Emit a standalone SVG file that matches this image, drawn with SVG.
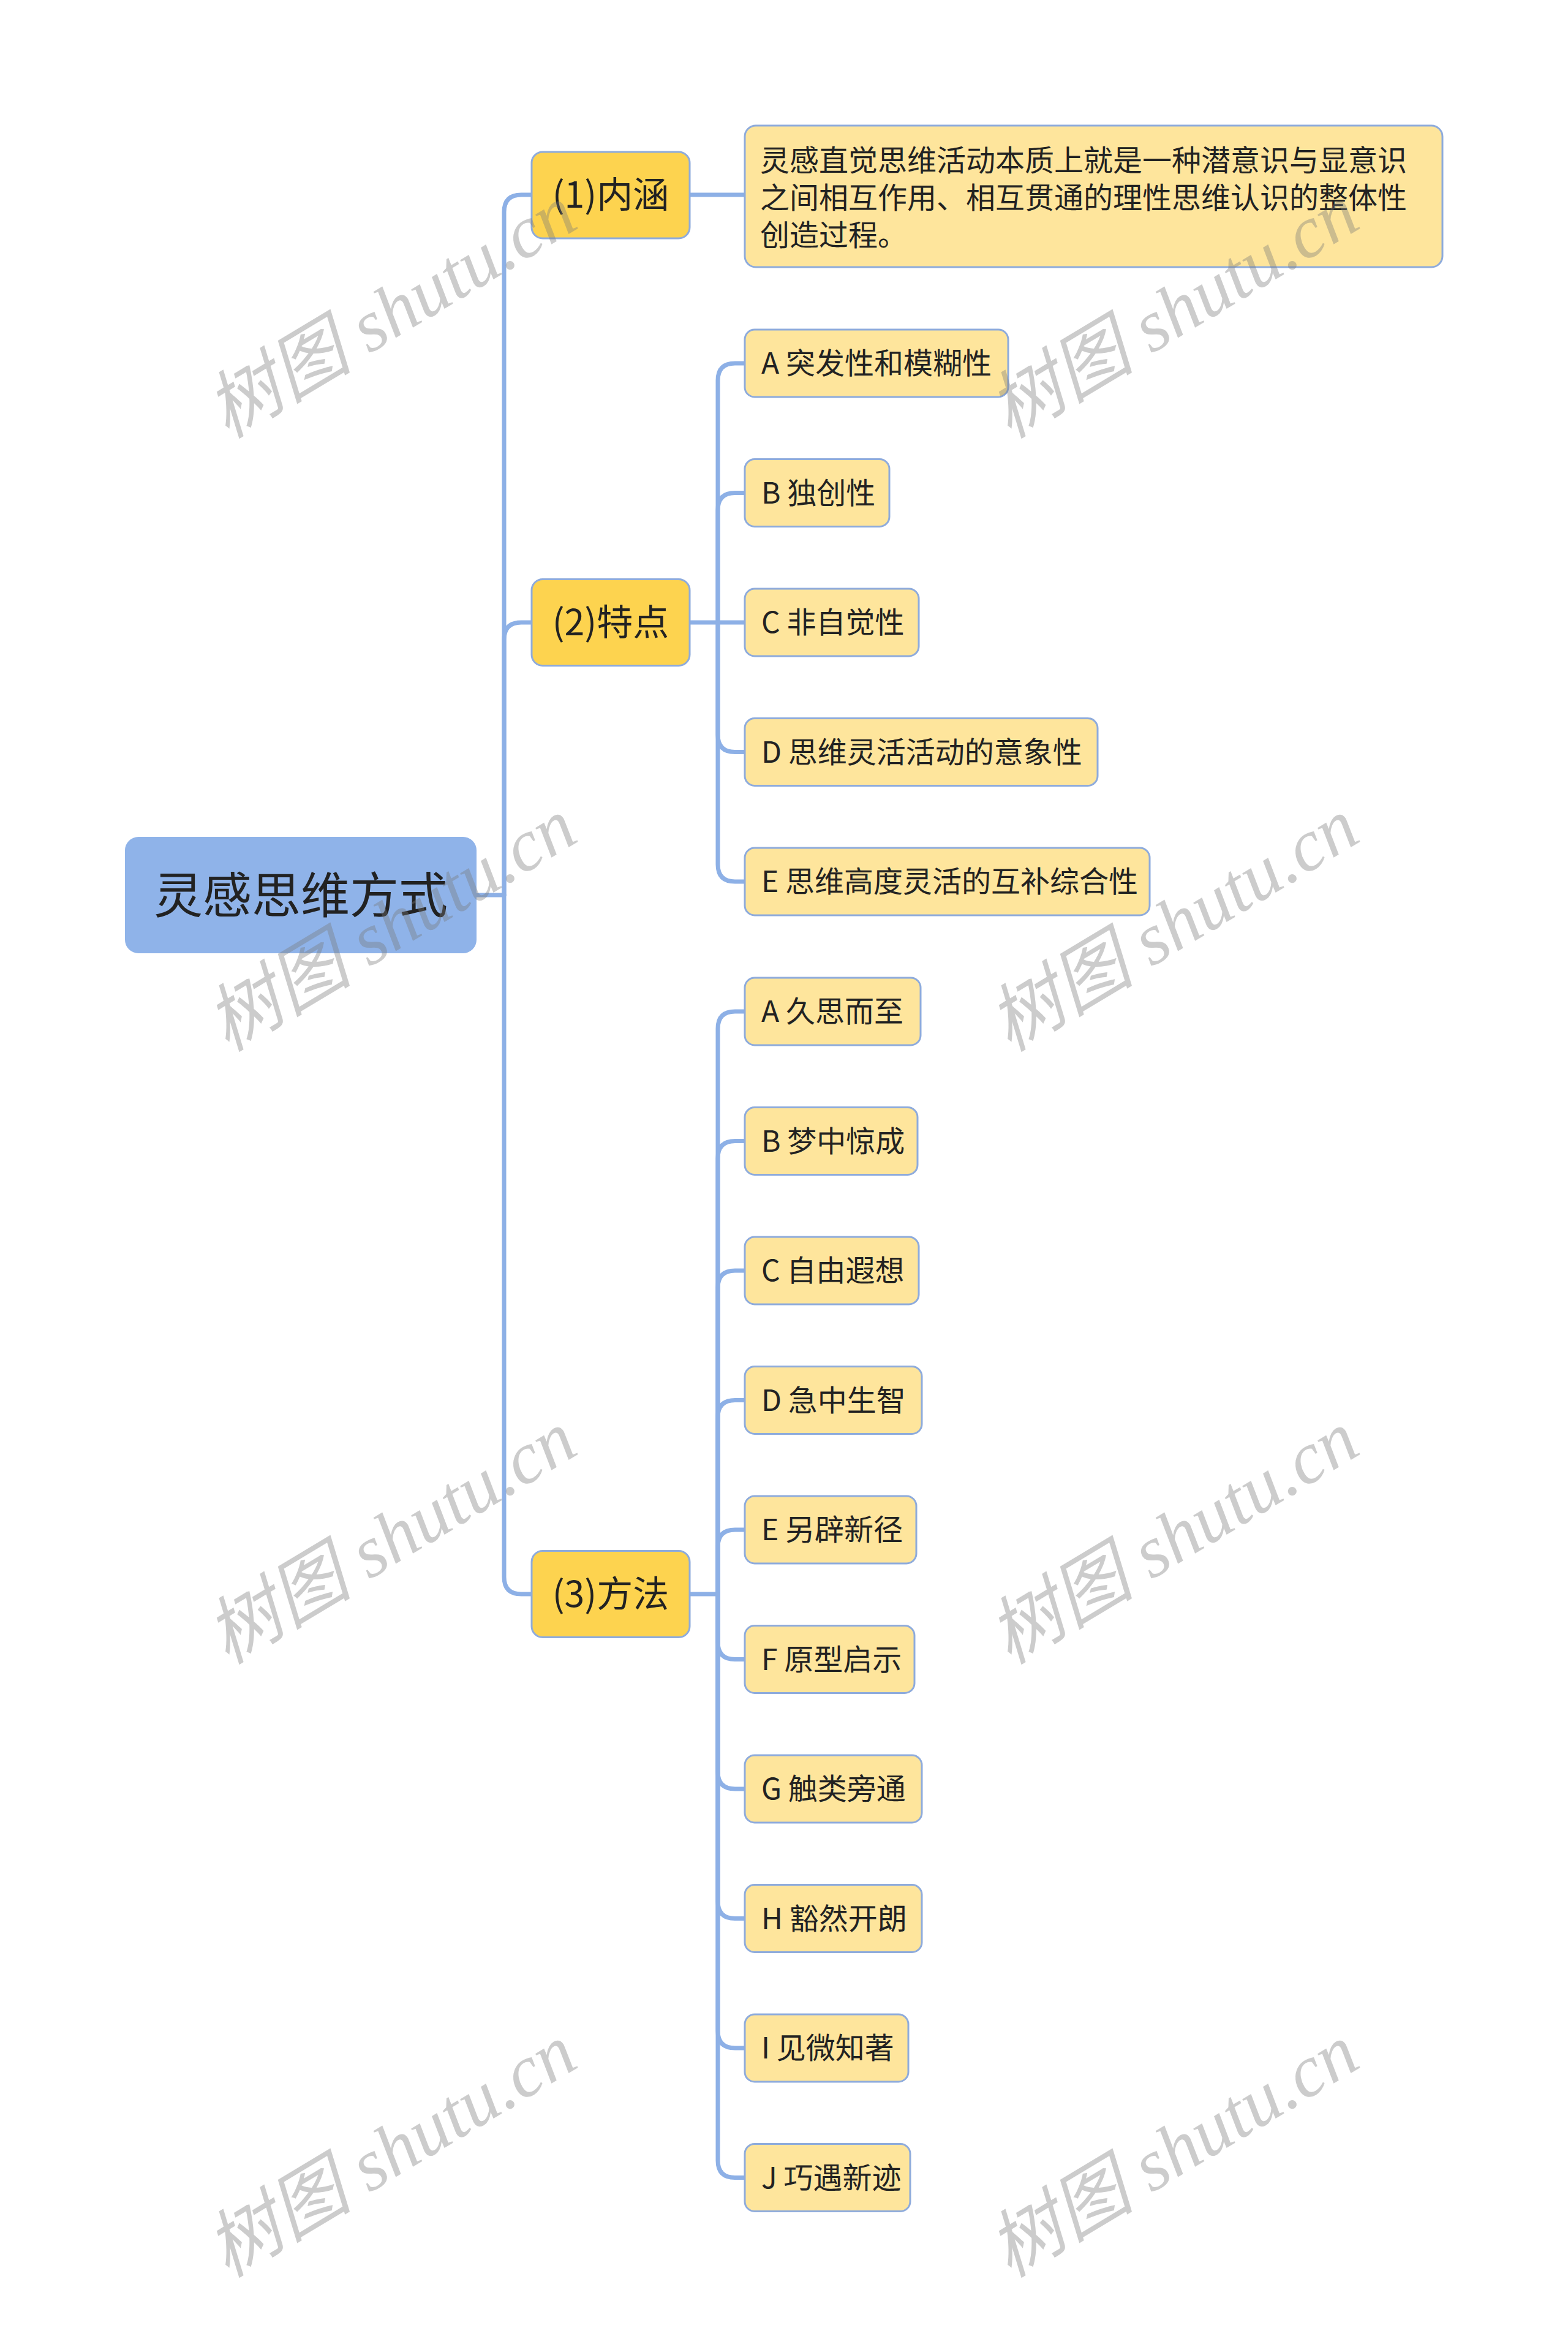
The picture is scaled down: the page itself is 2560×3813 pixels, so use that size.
<svg xmlns="http://www.w3.org/2000/svg" width="2560" height="3813" viewBox="0 0 2560 3813">
<style>
.bg{fill:#ffffff}
.root{fill:#8fb3e9}
.l1{fill:#fdd34f;stroke:#8eabdc;stroke-width:3}
.l2{fill:#fee59c;stroke:#8eabdc;stroke-width:3}
.t{font-family:"Noto Sans CJK SC","Noto Sans",sans-serif;fill:#222222}
.tr{font-size:80px}
.t1{font-size:59px}
.t2{font-size:48px}
.td{font-size:48px}
.conn path{fill:none;stroke:#8db0e6;stroke-width:7;stroke-linecap:round;stroke-linejoin:round}
.wm{font-family:"Liberation Serif","Noto Sans CJK SC",serif;font-style:italic;font-size:120px;fill:#7a7a7a;fill-opacity:0.38}
</style>
<rect class="bg" x="0" y="0" width="2560" height="3813"/>
<g id="connectors" class="conn">
<path d="M778,1461 H823"/>
<path d="M823,1461 V346 Q823,318 851,318 H868"/>
<path d="M823,1461 V1044 Q823,1016 851,1016 H868"/>
<path d="M823,1461 V2574 Q823,2602 851,2602 H868"/>
<path d="M1126,318 H1216"/>
<path d="M1126,1016 H1172"/>
<path d="M1172,1016 V621 Q1172,593 1200,593 H1216"/>
<path d="M1172,1016 V832.5 Q1172,804.5 1200,804.5 H1216"/>
<path d="M1172,1016 H1216"/>
<path d="M1172,1016 V1199.5 Q1172,1227.5 1200,1227.5 H1216"/>
<path d="M1172,1016 V1411 Q1172,1439 1200,1439 H1216"/>
<path d="M1126,2602 H1172"/>
<path d="M1172,2602 V1679 Q1172,1651 1200,1651 H1216"/>
<path d="M1172,2602 V1890.5 Q1172,1862.5 1200,1862.5 H1216"/>
<path d="M1172,2602 V2102 Q1172,2074 1200,2074 H1216"/>
<path d="M1172,2602 V2313.5 Q1172,2285.5 1200,2285.5 H1216"/>
<path d="M1172,2602 V2525 Q1172,2497 1200,2497 H1216"/>
<path d="M1172,2602 V2680.5 Q1172,2708.5 1200,2708.5 H1216"/>
<path d="M1172,2602 V2892 Q1172,2920 1200,2920 H1216"/>
<path d="M1172,2602 V3103.5 Q1172,3131.5 1200,3131.5 H1216"/>
<path d="M1172,2602 V3315 Q1172,3343 1200,3343 H1216"/>
<path d="M1172,2602 V3526.5 Q1172,3554.5 1200,3554.5 H1216"/>
</g>
<g id="root">
<rect class="root" x="204" y="1366" width="574" height="190" rx="22"/>
<text class="t tr" x="491" y="1490" text-anchor="middle">灵感思维方式</text>
</g>
<g id="n1">
<rect class="l1" x="868" y="248" width="258" height="141" rx="18"/>
<text class="t t1" x="997" y="339" text-anchor="middle">(1)内涵</text>
</g>
<g id="n1-desc">
<rect class="l2" x="1216" y="205" width="1139" height="231" rx="18"/>
<text class="t td" x="1241" y="279">灵感直觉思维活动本质上就是一种潜意识与显意识</text>
<text class="t td" x="1241" y="340">之间相互作用、相互贯通的理性思维认识的整体性</text>
<text class="t td" x="1241" y="401">创造过程。</text>
</g>
<g id="n2">
<rect class="l1" x="868" y="945.5" width="258" height="141" rx="18"/>
<text class="t t1" x="997" y="1037" text-anchor="middle">(2)特点</text>
</g>
<g id="n2a">
<rect class="l2" x="1216" y="538" width="430" height="110" rx="16"/>
<text class="t t2" x="1243" y="610">A 突发性和模糊性</text>
</g>
<g id="n2b">
<rect class="l2" x="1216" y="749.5" width="236" height="110" rx="16"/>
<text class="t t2" x="1243" y="821.5">B 独创性</text>
</g>
<g id="n2c">
<rect class="l2" x="1216" y="961" width="284" height="110" rx="16"/>
<text class="t t2" x="1243" y="1033">C 非自觉性</text>
</g>
<g id="n2d">
<rect class="l2" x="1216" y="1172.5" width="576" height="110" rx="16"/>
<text class="t t2" x="1243" y="1244.5">D 思维灵活活动的意象性</text>
</g>
<g id="n2e">
<rect class="l2" x="1216" y="1384" width="661" height="110" rx="16"/>
<text class="t t2" x="1243" y="1456">E 思维高度灵活的互补综合性</text>
</g>
<g id="n3">
<rect class="l1" x="868" y="2531.5" width="258" height="141" rx="18"/>
<text class="t t1" x="997" y="2623" text-anchor="middle">(3)方法</text>
</g>
<g id="n3a">
<rect class="l2" x="1216" y="1596" width="287" height="110" rx="16"/>
<text class="t t2" x="1243" y="1668">A 久思而至</text>
</g>
<g id="n3b">
<rect class="l2" x="1216" y="1807.5" width="282" height="110" rx="16"/>
<text class="t t2" x="1243" y="1879.5">B 梦中惊成</text>
</g>
<g id="n3c">
<rect class="l2" x="1216" y="2019" width="284" height="110" rx="16"/>
<text class="t t2" x="1243" y="2091">C 自由遐想</text>
</g>
<g id="n3d">
<rect class="l2" x="1216" y="2230.5" width="289" height="110" rx="16"/>
<text class="t t2" x="1243" y="2302.5">D 急中生智</text>
</g>
<g id="n3e">
<rect class="l2" x="1216" y="2442" width="280" height="110" rx="16"/>
<text class="t t2" x="1243" y="2514">E 另辟新径</text>
</g>
<g id="n3f">
<rect class="l2" x="1216" y="2653.5" width="277" height="110" rx="16"/>
<text class="t t2" x="1243" y="2725.5">F 原型启示</text>
</g>
<g id="n3g">
<rect class="l2" x="1216" y="2865" width="289" height="110" rx="16"/>
<text class="t t2" x="1243" y="2937">G 触类旁通</text>
</g>
<g id="n3h">
<rect class="l2" x="1216" y="3076.5" width="289" height="110" rx="16"/>
<text class="t t2" x="1243" y="3148.5">H 豁然开朗</text>
</g>
<g id="n3i">
<rect class="l2" x="1216" y="3288" width="267" height="110" rx="16"/>
<text class="t t2" x="1243" y="3360">I 见微知著</text>
</g>
<g id="n3j">
<rect class="l2" x="1216" y="3499.5" width="270" height="110" rx="16"/>
<text class="t t2" x="1243" y="3571.5">J 巧遇新迹</text>
</g>
<g id="watermarks">
<text class="wm" transform="translate(640,511) rotate(-31)" x="0" y="38" text-anchor="middle">树图 shutu.cn</text>
<text class="wm" transform="translate(1917,511) rotate(-31)" x="0" y="38" text-anchor="middle">树图 shutu.cn</text>
<text class="wm" transform="translate(640,1512) rotate(-31)" x="0" y="38" text-anchor="middle">树图 shutu.cn</text>
<text class="wm" transform="translate(1917,1512) rotate(-31)" x="0" y="38" text-anchor="middle">树图 shutu.cn</text>
<text class="wm" transform="translate(640,2512) rotate(-31)" x="0" y="38" text-anchor="middle">树图 shutu.cn</text>
<text class="wm" transform="translate(1917,2512) rotate(-31)" x="0" y="38" text-anchor="middle">树图 shutu.cn</text>
<text class="wm" transform="translate(640,3513) rotate(-31)" x="0" y="38" text-anchor="middle">树图 shutu.cn</text>
<text class="wm" transform="translate(1917,3513) rotate(-31)" x="0" y="38" text-anchor="middle">树图 shutu.cn</text>
</g>
</svg>
